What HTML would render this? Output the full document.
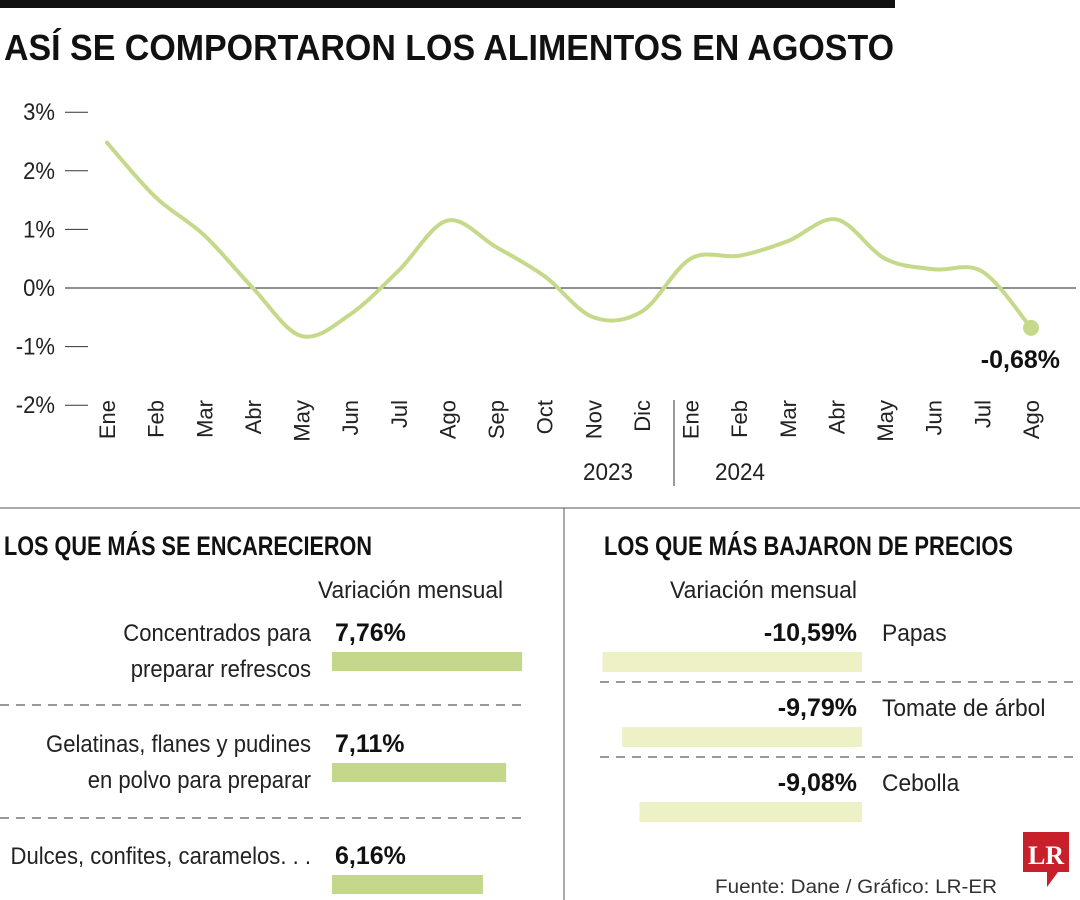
<!DOCTYPE html>
<html><head><meta charset="utf-8"><style>
html,body{margin:0;padding:0;background:#fff;}
svg{display:block;font-family:"Liberation Sans",sans-serif;}
</style></head><body>
<svg id="c" width="1080" height="900" viewBox="0 0 1080 900">
<rect x="0" y="0" width="895" height="8" fill="#111"/>
<text x="4" y="60" font-size="36" font-weight="bold" fill="#111" textLength="890" lengthAdjust="spacingAndGlyphs">ASÍ SE COMPORTARON LOS ALIMENTOS EN AGOSTO</text>
<g id="axes"></g>
<path id="line" fill="none" stroke="#c5d98a" stroke-width="4" stroke-linecap="round"/>
<g id="pts"></g>
<line x1="674" y1="400" x2="674" y2="486" stroke="#333" stroke-width="1"/>
<text x="608" y="480" font-size="24" text-anchor="middle" fill="#222" textLength="50" lengthAdjust="spacingAndGlyphs">2023</text>
<text x="740" y="480" font-size="24" text-anchor="middle" fill="#222" textLength="50" lengthAdjust="spacingAndGlyphs">2024</text>

<line x1="0" y1="508" x2="1080" y2="508" stroke="#555" stroke-width="1"/>
<line x1="564" y1="508" x2="564" y2="900" stroke="#555" stroke-width="1"/>
<text x="4" y="555" font-size="27" font-weight="bold" fill="#111" textLength="368" lengthAdjust="spacingAndGlyphs">LOS QUE MÁS SE ENCARECIERON</text>
<text x="604" y="555" font-size="27" font-weight="bold" fill="#111" textLength="409" lengthAdjust="spacingAndGlyphs">LOS QUE MÁS BAJARON DE PRECIOS</text>
<text x="318" y="598" font-size="24" fill="#222" textLength="185" lengthAdjust="spacingAndGlyphs">Variación mensual</text>
<text x="670" y="598" font-size="24" fill="#222" textLength="187" lengthAdjust="spacingAndGlyphs">Variación mensual</text>
<g id="bars"></g>
<line x1="0" y1="705" x2="525" y2="705" stroke="#333" stroke-dasharray="9,7"/>
<line x1="0" y1="818" x2="525" y2="818" stroke="#333" stroke-dasharray="9,7"/>
<line x1="600" y1="682" x2="1078" y2="682" stroke="#333" stroke-dasharray="9,7"/>
<line x1="600" y1="757" x2="1078" y2="757" stroke="#333" stroke-dasharray="9,7"/>
<text x="715" y="893" font-size="19" fill="#333" textLength="282" lengthAdjust="spacingAndGlyphs">Fuente: Dane / Gráfico: LR-ER</text>
<g>
<path d="M1023 832 H1069 V872 H1058 L1047 887 V872 H1023 Z" fill="#c8202a"/>
<text x="1046" y="864" font-family="Liberation Serif,serif" font-weight="bold" font-size="26" fill="#fff" text-anchor="middle">LR</text>
</g>
</svg>
<script>
const months=["Ene","Feb","Mar","Abr","May","Jun","Jul","Ago","Sep","Oct","Nov","Dic","Ene","Feb","Mar","Abr","May","Jun","Jul","Ago"];
const values=[2.48,1.55,0.9,0.0,-0.82,-0.45,0.3,1.15,0.7,0.2,-0.5,-0.4,0.5,0.55,0.8,1.17,0.5,0.32,0.28,-0.68];
const yTicks=[3,2,1,0,-1,-2];
const yTickLabels=["3%","2%","1%","0%","-1%","-2%"];
const riseLabels=[["Concentrados para","preparar refrescos"],["Gelatinas, flanes y pudines","en polvo para preparar"],["Dulces, confites, caramelos. . ."]];
const riseValues=[7.76,7.11,6.16];
const riseValueLabels=["7,76%","7,11%","6,16%"];
const dropLabels=["Papas","Tomate de árbol","Cebolla"];
const dropValues=[-10.59,-9.79,-9.08];
const dropValueLabels=["-10,59%","-9,79%","-9,08%"];
const lastLabel="-0,68%";

const NS="http://www.w3.org/2000/svg";
function mk(t,a,p){const e=document.createElementNS(NS,t);for(const k in a)e.setAttribute(k,a[k]);p.appendChild(e);return e;}
const xS=i=>107+i*(1031-107)/(months.length-1);
const yS=v=>288-v*58.6;
const ax=document.getElementById('axes');
yTicks.forEach((t,i)=>{
 const l=mk('line',{x1:65,x2:88,y1:yS(t),y2:yS(t),stroke:'#333','stroke-width':1},ax);
 
 
 const tx=mk('text',{transform:`translate(55,${yS(t)+8}) scale(0.92,1)`,'font-size':24,'text-anchor':'end',fill:'#222'},ax);
 tx.textContent=yTickLabels[i];
 
 
});
const z=mk('line',{x1:65,x2:1076,y1:yS(0),y2:yS(0),stroke:'#222','stroke-width':1},ax);


months.forEach((m,i)=>{
 const tx=mk('text',{transform:`translate(${xS(i)+8},400) rotate(-90)`,'font-size':22,'text-anchor':'end',fill:'#222'},ax);
 tx.textContent=m;
 
 
});
const P=values.map((v,i)=>[xS(i),yS(v)]);
let d=`M${P[0][0]},${P[0][1]}`;
for(let i=0;i<P.length-1;i++){
 const p0=P[i-1]||P[i],p1=P[i],p2=P[i+1],p3=P[i+2]||p2;
 const c1=[p1[0]+(p2[0]-p0[0])/6,p1[1]+(p2[1]-p0[1])/6];
 const c2=[p2[0]-(p3[0]-p1[0])/6,p2[1]-(p3[1]-p1[1])/6];
 d+=` C${c1[0]},${c1[1]} ${c2[0]},${c2[1]} ${p2[0]},${p2[1]}`;
}
document.getElementById('line').setAttribute('d',d);
const pts=document.getElementById('pts');
const n=values.length-1;
const dot=mk('circle',{cx:xS(n),cy:yS(values[n]),r:8,fill:'#c5d98a'},pts);


const ll=mk('text',{x:1060,y:yS(values[n])+40,'font-size':25,'font-weight':'bold','text-anchor':'end',fill:'#111'},pts);
ll.textContent=lastLabel;



const bars=document.getElementById('bars');
const bS=24.5;
const riseTop=[641,752,864];
riseValues.forEach((v,i)=>{
 const lines=riseLabels[i];
 lines.forEach((s,j)=>{
  const t=mk('text',{transform:`translate(311,${riseTop[i]+j*36}) scale(0.92,1)`,'font-size':24,'text-anchor':'end',fill:'#222'},bars);
  t.textContent=s;
  
  
 });
 const vt=mk('text',{x:335,y:riseTop[i],'font-size':25,'font-weight':'bold',fill:'#111'},bars);
 vt.textContent=riseValueLabels[i];
 
 
 const r=mk('rect',{x:332,y:riseTop[i]+11,width:v*bS,height:19,fill:'#c3d88a'},bars);
 
 
});
const dropTop=[641,716,791];
dropValues.forEach((v,i)=>{
 const vt=mk('text',{x:857,y:dropTop[i],'font-size':25,'font-weight':'bold','text-anchor':'end',fill:'#111'},bars);
 vt.textContent=dropValueLabels[i];
 
 
 const t=mk('text',{transform:`translate(882,${dropTop[i]}) scale(0.95,1)`,'font-size':24,fill:'#222'},bars);
 t.textContent=dropLabels[i];
 
 
 const w=Math.abs(v)*bS;
 const r=mk('rect',{x:862-w,y:dropTop[i]+11,width:w,height:20,fill:'#eef1c6'},bars);
 
 
});
</script>
</body></html>
